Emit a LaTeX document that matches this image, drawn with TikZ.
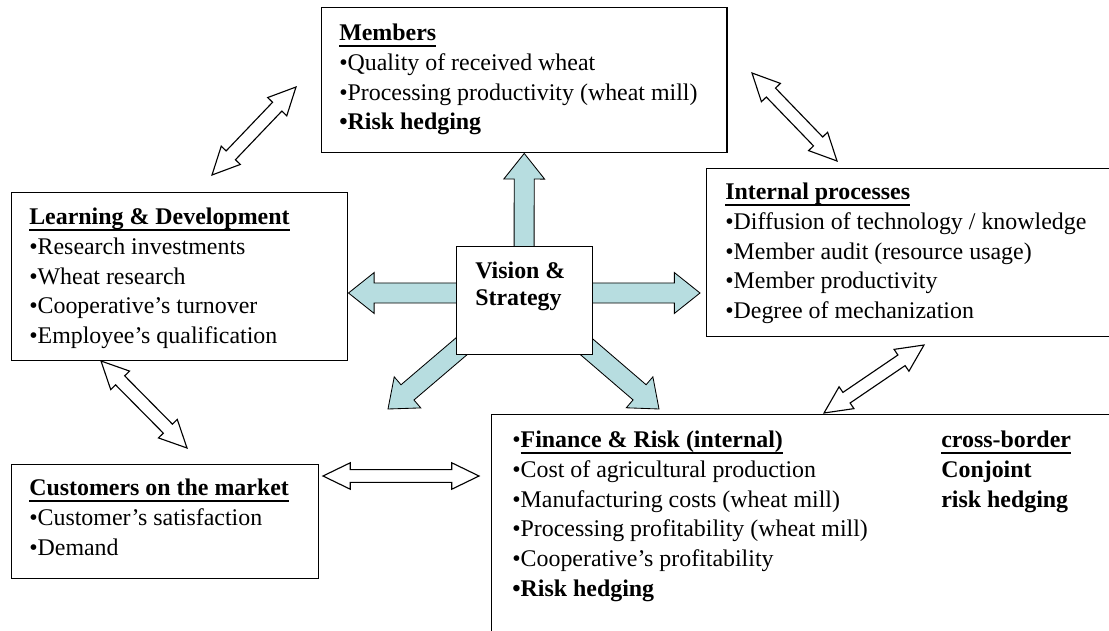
\documentclass[tikz,border=0pt]{standalone}
\usepackage{fontspec}
\setmainfont{Liberation Serif}
\usetikzlibrary{calc}

\definecolor{vsblue}{RGB}{183,221,224}

% underline at a fixed depth below the baseline
\newcommand{\hdline}[1]{\setbox0\hbox{#1}\rlap{\rule[-4.2pt]{\wd0}{1.1pt}}\box0}

\tikzset{
    box/.style={draw, line width=1pt, fill=white, anchor=north west, inner sep=0pt},
    txt/.style={anchor=north west, align=left, inner sep=0pt,
        font=\fontsize{17pt}{21.1pt}\selectfont},
    bluearrow/.style={draw=black, line width=0.6pt, fill=vsblue, line join=miter},
    whitearrow/.style={draw=black, line width=0.8pt, fill=white, line join=miter}
}

% thick single arrow, from #1 to the tip #2
\newcommand{\fatarrow}[2]{%
    \coordinate (hb) at ($(#2)!0.64cm!(#1)$);
    \draw[bluearrow] ($(#1)!0.25cm!90:(#2)$) -- ($(hb)!0.25cm!90:(#2)$)
        -- ($(hb)!0.51cm!90:(#2)$) -- (#2) -- ($(hb)!0.51cm!-90:(#2)$)
        -- ($(hb)!0.25cm!-90:(#2)$) -- ($(#1)!0.25cm!-90:(#2)$) -- cycle;}

% hollow double arrow between the tips #1 and #2
\newcommand{\dblarrow}[2]{%
    \coordinate (ha) at ($(#1)!0.68cm!(#2)$);
    \coordinate (hb) at ($(#2)!0.68cm!(#1)$);
    \draw[whitearrow] (#1) -- ($(ha)!0.33cm!90:(#2)$) -- ($(ha)!0.16cm!90:(#2)$)
        -- ($(hb)!0.16cm!90:(#2)$) -- ($(hb)!0.33cm!90:(#2)$) -- (#2)
        -- ($(hb)!0.33cm!-90:(#2)$) -- ($(hb)!0.16cm!-90:(#2)$)
        -- ($(ha)!0.16cm!-90:(#2)$) -- ($(ha)!0.33cm!-90:(#2)$) -- cycle;}

\begin{document}
\begin{tikzpicture}[x=0.025cm, y=-0.025cm]

    \useasboundingbox (0,0) rectangle (1109,630);
    \clip (0,0) rectangle (1109,630);

    % 1. Boxes
    \node[box, minimum width=10.125cm, minimum height=3.625cm] (members) at (321,7) {};
    \node[box, minimum width=8.4cm, minimum height=4.2cm] (learning) at (11,192) {};
    \node[box, minimum width=10.6cm, minimum height=4.2cm] (internal) at (706,168) {};
    \node[box, minimum width=7.675cm, minimum height=2.85cm] (customers) at (11,464) {};
    \node[box, minimum width=16cm, minimum height=6cm] (finance) at (491,414) {};

    % 2. Coordinates for the arrows
    \coordinate (vc) at (524,293);
    \coordinate (rt) at (700,293);
    \coordinate (dl) at (388,409);
    \coordinate (dr) at (659,409);
    \coordinate (lm1) at (212,175);  \coordinate (lm2) at (296,87);
    \coordinate (mi1) at (752,73);   \coordinate (mi2) at (837,161);
    \coordinate (if1) at (824,413);  \coordinate (if2) at (924,345);
    \coordinate (lc1) at (101,361);  \coordinate (lc2) at (187,448);
    \coordinate (cf1) at (323,476);  \coordinate (cf2) at (479,476);

    % 3. Arrows out of Vision & Strategy
    \fatarrow{vc}{members.south}
    \fatarrow{vc}{vc -| learning.east}
    \fatarrow{vc}{rt}
    \fatarrow{vc}{dl}
    \fatarrow{vc}{dr}

    \node[box, minimum width=3.4cm, minimum height=2.7cm] (vision) at (456,246) {};

    % 4. Double arrows between the boxes
    \dblarrow{lm1}{lm2}
    \dblarrow{mi1}{mi2}
    \dblarrow{if1}{if2}
    \dblarrow{lc1}{lc2}
    \dblarrow{cf1}{cf2}

    % 5. Texts
    \node[txt, font=\fontsize{17pt}{19.2pt}\selectfont\bfseries] (visiontxt)
        at ([shift={(19,16)}]vision.north west) {Vision \&\\Strategy};
    \node[txt] (memberstxt) at ([shift={(18,17)}]members.north west)
        {\textbf{\hdline{Members}}\\
         \textbullet Quality of received wheat\\
         \textbullet Processing productivity (wheat mill)\\
         \textbf{\textbullet Risk hedging}};
    \node[txt] (learningtxt) at ([shift={(18,16)}]learning.north west)
        {\textbf{\hdline{Learning \& Development}}\\
         \textbullet Research investments\\
         \textbullet Wheat research\\
         \textbullet Cooperative’s turnover\\
         \textbullet Employee’s qualification};
    \node[txt] (internaltxt) at ([shift={(19,15)}]internal.north west)
        {\textbf{\hdline{Internal processes}}\\
         \textbullet Diffusion of technology / knowledge\\
         \textbullet Member audit (resource usage)\\
         \textbullet Member productivity\\
         \textbullet Degree of mechanization};
    \node[txt] (customerstxt) at ([shift={(18,15)}]customers.north west)
        {\textbf{\hdline{Customers on the market}}\\
         \textbullet Customer’s satisfaction\\
         \textbullet Demand};
    \node[txt] (financetxt) at ([shift={(21,17)}]finance.north west)
        {\textbullet\textbf{\hdline{Finance \& Risk (internal)}}\\
         \textbullet Cost of agricultural production\\
         \textbullet Manufacturing costs (wheat mill)\\
         \textbullet Processing profitability (wheat mill)\\
         \textbullet Cooperative’s profitability\\
         \textbf{\textbullet Risk hedging}};
    \node[txt, font=\fontsize{17pt}{21.1pt}\selectfont\bfseries] (crosstxt)
        at ([shift={(450,17)}]finance.north west)
        {\hdline{cross-border}\\Conjoint\\risk hedging};

\end{tikzpicture}
\end{document}
